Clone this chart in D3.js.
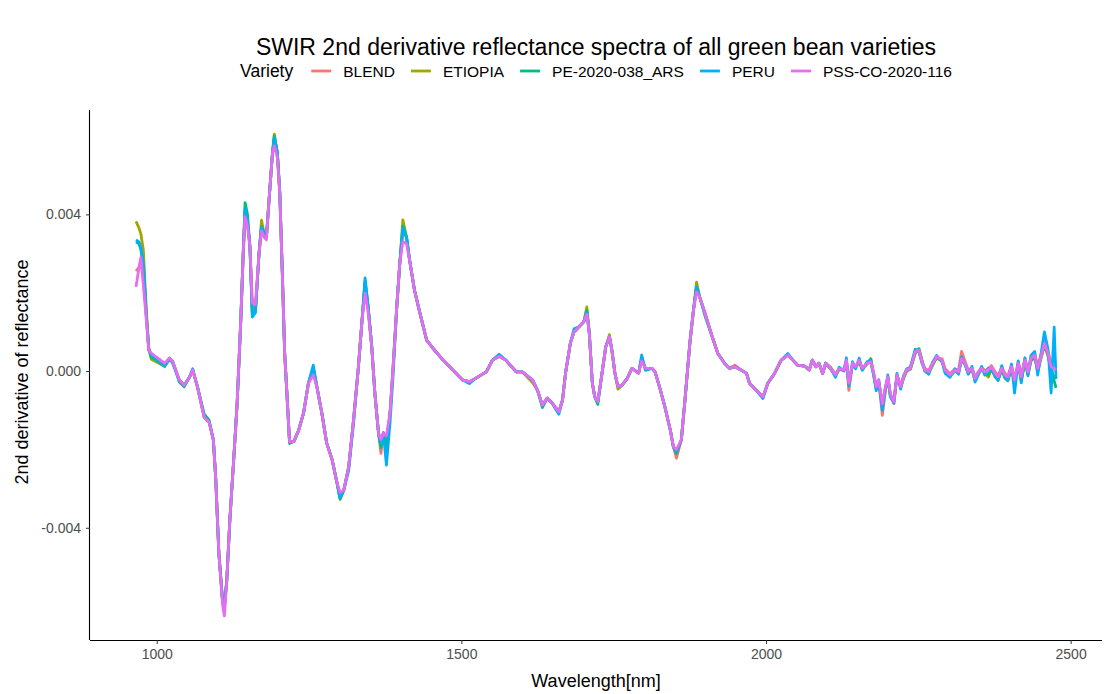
<!DOCTYPE html>
<html>
<head>
<meta charset="utf-8">
<script src="https://cdn.jsdelivr.net/npm/d3@7"></script>
<style>
  body { margin: 0; background: #fff; }
  svg { font-family: "Liberation Sans", Arial, sans-serif; }
</style>
</head>
<body>
<svg width="1107" height="694"></svg>
<script>
// values are 2nd derivative of reflectance, written in units of 1e-4
const UNIT = 1e-4;

const varieties = ["BLEND", "ETIOPIA", "PE-2020-038_ARS", "PERU", "PSS-CO-2020-116"];
const colors = ["#F8766D", "#A3A500", "#00BF7D", "#00B0F6", "#E76BF3"];

const wavelength = [
  966, 971, 974, 978, 983, 987, 991, 999, 1013, 1021,
  1026, 1037, 1045, 1054, 1059, 1067, 1078, 1086, 1093, 1097,
  1102, 1108, 1111, 1115, 1120, 1127, 1132, 1138, 1142, 1145,
  1149, 1153, 1157, 1162, 1168, 1172, 1176, 1180, 1184, 1190,
  1193, 1198, 1202, 1206, 1210, 1214, 1218, 1225, 1233, 1241,
  1249, 1257, 1263, 1271, 1279, 1288, 1296, 1301, 1307, 1315,
  1323, 1331, 1337, 1342, 1347, 1353, 1358, 1364, 1368, 1372,
  1377, 1383, 1388, 1394, 1399, 1404, 1410, 1415, 1423, 1432,
  1443, 1453, 1470, 1486, 1502, 1513, 1524, 1541, 1551, 1562,
  1573, 1590, 1600, 1617, 1625, 1633, 1641, 1649, 1660, 1666,
  1671, 1679, 1685, 1693, 1701, 1706, 1710, 1715, 1719, 1724,
  1730, 1737, 1743, 1747, 1752, 1757, 1764, 1772, 1780, 1791,
  1796, 1802, 1813, 1818, 1826, 1834, 1843, 1848, 1853, 1861,
  1867, 1875, 1881, 1886, 1891, 1900, 1910, 1921, 1932, 1940,
  1949, 1959, 1968, 1973, 1984, 1995, 2003, 2014, 2025, 2036,
  2044, 2052, 2063, 2071, 2076, 2082, 2087, 2093, 2098,
  2106, 2114, 2120, 2128, 2132, 2136, 2142, 2147, 2153, 2158,
  2166, 2172, 2177, 2181, 2185, 2191, 2196, 2200, 2204, 2210,
  2215, 2221, 2226, 2231, 2237, 2245, 2251, 2256, 2261, 2267,
  2274, 2280, 2289, 2294, 2302, 2310, 2316, 2321, 2327, 2332,
  2338, 2343, 2349, 2354, 2359, 2365, 2370, 2376, 2381, 2387,
  2392, 2397, 2403, 2408, 2414, 2419, 2425, 2430, 2435, 2441,
  2446, 2452, 2457, 2463, 2468, 2473, 2476
];

const blend = [
  25.5, 26.5, 28, 24, 14, 5.5, 4.4, 3.4, 1.6, 3.3,
  2.5, -2.3, -3.6, -1.5, 0.3, -4.1, -11.8, -13, -17.6, -27.9,
  -46.5, -58.5, -60, -53.4, -38.1, -21, -8.2, 13, 30.2, 40.5,
  38, 31.7, 15, 15.6, 30.2, 36.8, 35.3, 34.2, 42.9, 55.7,
  59.5, 55.7, 45.5, 25.8, 4.6, -6.6, -18, -18, -15.1, -10.7,
  -3.1, 0.3, -4.1, -10.7, -18.4, -22.7, -28.6, -31.5, -30.4, -24.5,
  -12.5, 1, 13, 22, 16.4, 6.1, -5.6, -15.8, -21, -15.8,
  -18, -10.7, 1, 16.4, 27.6, 35.5, 34.2, 28.4, 20.7, 14.8,
  7.9, 5.9, 2.8, 0.3, -2.3, -2.7, -1.8, -0.2, 2.8, 3.8,
  2.8, -0.2, -0.2, -2.3, -4.9, -8.7, -6.9, -8.2, -10.4, -7.4,
  -0.5, 7.2, 10, 11.3, 12.6, 15.2, 9.7, -3.1, -6.6, -7.8,
  -1.5, 6.2, 8.8, 5.4, -0.5, -4, -3.6, -1.9, 0.7, -0.5,
  3, 0.7, 0.7, -0.2, -4.5, -9.1, -15.1, -19.3, -22.2, -17.6,
  -7.4, 7.1, 15.6, 21.1, 19, 14.7, 9.6, 4.5, 2, 0.7,
  1.5, 0.3, -0.6, -3.1, -4.9, -6.6, -3.1, -0.6, 2.8, 4.1,
  2.8, 1.5, 1.3, 0.3, 2.8, 1.1, 2, -0.6, 2,
  1, -0.8, 0.5, 0.5, 2.5, -4.9, 1.8, 1.3, 2.5, 0.4,
  2.2, 2, -1, -4.5, -2.8, -11.3, -5, -1.8, -6, -8.3,
  -1.2, -3.6, -1.2, 0.5, 1, 5.2, 5, 2.2, 0.6, 0.2,
  2.3, 3.2, 3.2, 0.6, -0.7, 0.5, 0.3, 5, 2.4, 0.2,
  0.9, -1.5, 0, 0.9, 0.2, 0.5, 1.4, -0.2, -1.2, 1,
  -0.6, -1.2, 1.5, -2, 2.4, -1, 3.2, 0.4, 3.6, 4.6,
  1.2, 4.5, 7.5, 5, 2, 0.8, 0.5
];

const etiopia = [
  38.2, 36.5, 35, 31, 15.5, 6, 3, 2.4, 1.2, 3.0,
  2.5, -2.3, -3.6, -1.5, 0.3, -4.1, -11.8, -13, -17.6, -27.9,
  -46.5, -58.5, -60, -53.4, -38.1, -21, -8.2, 13, 30.2, 41,
  38, 31.7, 14.5, 15.5, 30.2, 38.5, 35.3, 34.2, 42.9, 55.7,
  60.5, 55.7, 45.5, 25.8, 4.6, -6.6, -18, -18, -15.1, -10.7,
  -3.1, 0.5, -4.1, -10.7, -18.4, -22.7, -28.6, -32.8, -30.4, -24.5,
  -12.5, 1, 13, 22.5, 16.4, 6.1, -5.6, -15.8, -19, -15.8,
  -19, -10.7, 1, 16.4, 27.6, 38.6, 34.2, 28.4, 20.7, 14.8,
  7.9, 5.9, 2.8, 0.3, -2.3, -2.7, -1.8, -0.2, 2.8, 3.8,
  2.8, -0.2, -0.2, -3, -4.9, -8.7, -6.9, -8.2, -10.4, -7.4,
  -0.5, 7.2, 10, 11.3, 12.6, 16.4, 9.7, -3.1, -6.6, -7.8,
  -1.5, 6.2, 9.3, 5.4, -0.5, -4.6, -3.6, -1.9, 0.7, -0.5,
  3, 0.7, 0.7, -0.2, -4.5, -9.1, -15.1, -19.3, -21, -17.6,
  -7.4, 7.1, 15.6, 22.7, 19, 14.7, 9.6, 4.5, 2, 0.7,
  1.1, 0.3, -0.6, -3.1, -4.9, -6.6, -3.1, -0.6, 2.8, 4.1,
  2.8, 1.5, 1.3, 0.3, 2.8, 1.1, 2, -0.6, 2,
  0.5, -1.2, 0.4, 0.2, 2.4, -3.5, 1.6, 0.8, 2.4, 0.4,
  1.8, 3.2, -1.2, -4.4, -3, -8.8, -4.6, -1.8, -6.2, -7.2,
  -1.3, -4.2, -1.8, 0, 0.4, 4.5, 5.8, 2.8, 0, -0.6,
  1.6, 3.4, 2.4, 0, -1.4, 0, -0.6, 2.8, 1.6, -0.6,
  0.4, -2.3, -0.6, 0.4, -0.6, -1.5, 0.6, -1.5, -2.3, 0.2,
  -1.8, -2.5, 0.6, -3.1, 1.6, -2.4, 2.2, -1, 2.6, 3.4,
  0, 3.6, 6.5, 3.8, 0.4, -1.5, -2
];

const pe2020 = [
  33, 32.5, 31, 27, 14, 5.4, 3.6, 2.8, 1.2, 3.3,
  2.5, -2.8, -4, -1.5, 0.3, -4.1, -11, -12.5, -17.6, -27.9,
  -46.5, -58.5, -60, -53.4, -38.1, -21, -8.2, 13, 30.2, 43,
  40, 31.7, 14, 15, 30.2, 36.8, 35.3, 34.2, 42.9, 55.7,
  60, 55.7, 45.5, 25.8, 4.6, -6.6, -18.5, -18, -15.1, -10.7,
  -3.1, 0.6, -4.1, -10.7, -18.4, -22.7, -28.6, -32.5, -30.4, -24.5,
  -12.5, 1, 13, 23, 16.4, 6.1, -5.6, -15.8, -19.5, -15.8,
  -20, -10.7, 1, 16.4, 27.6, 37, 34.2, 28.4, 20.7, 14.8,
  7.9, 5.9, 2.8, 0.3, -2.3, -2.7, -1.8, -0.2, 2.8, 3.8,
  2.8, -0.2, -0.2, -2.3, -4.9, -9.3, -6.9, -8.2, -10.4, -7.4,
  -0.5, 7.2, 10, 11.3, 12.6, 15.5, 9.7, -3.1, -6.6, -8.5,
  -1.5, 6.2, 8.8, 5.4, -0.5, -4, -3.6, -1.9, 0.7, -0.5,
  3.4, 0.7, 0.7, -0.2, -4.5, -9.1, -15.1, -19.3, -21, -17.6,
  -7.4, 7.1, 15.6, 21.5, 19, 14, 9.6, 4.5, 2, 0.7,
  1.1, 0.3, -0.6, -3.1, -4.9, -6.6, -3.1, -0.6, 2.8, 4.1,
  2.8, 1.5, 1.3, 0.3, 2.8, 1.1, 2, -0.6, 2,
  0.6, -1.1, 0.6, 0.2, 2.6, -3.3, 1.8, 1, 2.6, 0.6,
  1.9, 3, -0.8, -4.4, -2.6, -8.6, -4.2, -1.6, -6, -7.6,
  -1.1, -4.1, -1.6, 0.2, 0.6, 4.7, 5.6, 2.6, 0.2, -0.4,
  1.8, 3.6, 2.6, 0.2, -1.2, 0.2, -0.4, 3, 1.8, -0.4,
  0.6, -2.1, -0.4, 0.6, -0.4, -1, 0.8, -1.2, -2, 0.4,
  -1.4, -2, 0.8, -2.8, 1.8, -2, 2.4, -0.6, 2.8, 3.6,
  0.3, 3.8, 6.8, 4, 0.6, -2.5, -4.3
];

const peru = [
  33.5, 33, 31.5, 27.5, 14, 5.5, 4.2, 3.2, 1.4, 3.3,
  2.0, -2.3, -3.6, -1.5, 0.6, -4.1, -11.8, -13, -17.6, -27.9,
  -46.5, -58.5, -61, -53.4, -38.1, -21, -8.2, 13, 30.2, 41.5,
  38.5, 31.7, 13.8, 15, 30.2, 36.8, 35.3, 34.2, 42.9, 55.7,
  59.5, 55.7, 45.5, 25.8, 4.6, -6.6, -18, -18, -15.1, -10.7,
  -3.1, 1.5, -4.1, -10.7, -18.4, -22.7, -28.6, -32.5, -30.4, -25.5,
  -13.5, 1, 13, 23.8, 16.4, 6.1, -5.6, -15.8, -18.4, -15.8,
  -24, -13, -1, 16.4, 27.6, 36.5, 34.2, 28.4, 20.7, 14.8,
  7.9, 5.9, 2.8, 0.3, -2.3, -3.2, -1.8, -0.2, 2.8, 4.3,
  2.8, -0.2, -0.2, -2.3, -4.9, -8.7, -6.9, -8.2, -11, -7.4,
  -0.5, 7.2, 10.8, 11.3, 12.6, 15, 9.7, -3.1, -6.6, -7.8,
  -1.5, 6.2, 8.8, 5.4, -0.5, -4, -3.6, -1.9, 0.7, -0.5,
  4.1, 0.2, 0.7, -0.2, -4.5, -9.1, -15.1, -19.3, -20.6, -17.6,
  -7.4, 7.1, 15.6, 21.5, 19, 14.7, 9.6, 4.5, 2, 0.7,
  1.1, 0.3, -0.6, -3.1, -4.9, -7, -3.1, -0.6, 2.8, 4.5,
  2.8, 1.5, 1.3, 0.3, 2.8, 1.1, 2, -0.6, 2,
  0.8, -1.6, 1, 0, 3.4, -3.8, 2.4, 0.6, 3.3, 0.2,
  2.4, 2.6, -1.4, -5, -2.2, -10, -4.8, -1, -6.5, -8.2,
  -0.6, -4.6, -1.2, 0.6, 1, 5.6, 5, 2, 0, -0.8,
  2.4, 4, 2.4, -0.6, -1.6, 0.6, -0.8, 3.6, 1.6, -0.8,
  1.2, -2.8, -0.8, 1.2, -1, 0.8, 0.4, -1.2, -2.4, 1.4,
  -1.6, -2.4, 1.8, -5.6, 2.6, -3, 3.4, -1.2, 4, 5,
  -1, 5, 10, 5.5, -5.6, 11.2, -2
];

const pss = [
  21.5, 26.5, 29, 22, 13, 5.2, 4.6, 3.6, 2, 3.3,
  2.5, -2.3, -3.6, -1.5, 0.3, -4.1, -11.8, -13, -17.6, -27.9,
  -46.5, -59.5, -62.5, -53.4, -38.1, -21, -8.2, 13, 30.2, 39.4,
  37, 31.7, 17.4, 17, 30.2, 35.8, 34.2, 33.5, 42.9, 55.7,
  57.5, 54.5, 45.5, 25.8, 4.6, -6.6, -18, -18, -15.1, -10.7,
  -3.1, -1, -4.1, -10.7, -18.4, -22.7, -28.6, -31, -30.4, -24.5,
  -12.5, 1, 13, 19.9, 15, 6.1, -5.6, -15.8, -17.5, -15.8,
  -16.5, -10.7, 1, 16.4, 27.6, 33, 32.5, 28.4, 20.7, 14.8,
  7.9, 5.9, 2.8, 0.3, -2.3, -2.7, -1.8, -0.2, 2.8, 3.8,
  2.8, -0.2, -0.2, -2.3, -4.9, -8.7, -6.9, -8.2, -10.4, -7.4,
  -0.5, 7.2, 10, 11.3, 12.6, 14.5, 9.7, -3.1, -6.6, -7.8,
  -1.5, 6.2, 8.8, 5.4, -0.5, -4, -3.6, -1.9, 0.7, -0.5,
  2.6, 0.7, 0.7, -0.2, -4.5, -9.1, -15.1, -19.3, -20, -17.6,
  -7.4, 7.1, 15.6, 20.2, 19, 14.7, 9.6, 4.5, 2, 0.7,
  1.1, 0.3, -0.6, -3.1, -4.9, -6.6, -3.1, -0.6, 2.8, 4.1,
  2.8, 1.5, 1.3, 0.3, 2.8, 1.1, 2, -0.6, 2,
  0.7, -1, 0.7, 0.3, 2.8, -3.1, 2, 1.1, 2.8, 0.7,
  2, 2.4, -0.6, -4, -2.3, -8.3, -4, -1.5, -5.7, -7.8,
  -1, -4, -1.5, 0.3, 0.7, 4.9, 5.4, 2.4, 0.3, -0.2,
  2, 3.7, 2.8, 0.3, -1, 0.3, -0.2, 3.2, 2, -0.2,
  0.7, -1.9, -0.2, 0.7, -0.2, 0.3, 1.1, -0.6, -1.5, 0.7,
  -1, -1.5, 1.1, -2.3, 2, -1.5, 2.8, -0.2, 3.2, 4.1,
  0.7, 4.1, 7.1, 4.5, 1.1, 0.7, 0.3
];

const seriesValues = [blend, etiopia, pe2020, peru, pss];
const xTicks = [1000, 1500, 2000, 2500];
const yTicks = [-0.004, 0, 0.004];

const svg = d3.select("svg");
const width = +svg.attr("width"), height = +svg.attr("height");
const margin = { top: 110, right: 5, bottom: 54, left: 90 };
const w = width - margin.left - margin.right,
      h = height - margin.top - margin.bottom;

const series = varieties.map((name, i) => ({
  name: name,
  color: colors[i],
  points: wavelength.map((wl, j) => ({ x: wl, y: seriesValues[i][j] * UNIT }))
}));

// ggplot style 5% expansion on both axes
function expand(ext) {
  const pad = (ext[1] - ext[0]) * 0.05;
  return [ext[0] - pad, ext[1] + pad];
}
const allY = series.flatMap(s => s.points.map(p => p.y));

const x = d3.scaleLinear().domain(expand(d3.extent(wavelength))).range([0, w]);
const y = d3.scaleLinear().domain(expand(d3.extent(allY))).range([h, 0]);

const g = svg.append("g").attr("transform", `translate(${margin.left},${margin.top})`);

const line = d3.line().x(d => x(d.x)).y(d => y(d.y));

g.selectAll(".spectrum")
  .data(series)
  .join("path")
  .attr("class", "spectrum")
  .attr("fill", "none")
  .attr("stroke", d => d.color)
  .attr("stroke-width", 2.8)
  .attr("stroke-linejoin", "round")
  .attr("d", d => line(d.points));

// axes (plain hyphen for the minus sign, like R)
const yFmt = d => d3.format(".3f")(d).replace("\u2212", "-");
const xAxis = g.append("g")
  .attr("transform", `translate(0,${h})`)
  .call(d3.axisBottom(x).tickValues(xTicks).tickSize(4).tickPadding(5).tickFormat(d3.format("d")));
const yAxis = g.append("g")
  .call(d3.axisLeft(y).tickValues(yTicks).tickSize(4).tickPadding(5).tickFormat(yFmt));

[xAxis, yAxis].forEach(a => {
  a.select(".domain").attr("stroke", "#000").attr("stroke-width", 1.1);
  a.selectAll(".tick line").attr("stroke", "#333");
  a.selectAll(".tick text")
    .attr("fill", "#4d4d4d")
    .style("font-size", "14px")
    .style("font-family", "Liberation Sans, Arial, sans-serif");
});
xAxis.select(".domain").attr("d", `M0,0.5H${w}`);
yAxis.select(".domain").attr("d", `M-0.5,0V${h}`);

// axis titles
svg.append("text")
  .attr("x", margin.left + w / 2)
  .attr("y", height - 7)
  .attr("text-anchor", "middle")
  .style("font-size", "18px")
  .text("Wavelength[nm]");

svg.append("text")
  .attr("transform", `translate(28,${margin.top + h / 2 - 3}) rotate(-90)`)
  .attr("text-anchor", "middle")
  .style("font-size", "18px")
  .text("2nd derivative of reflectance");

// title
svg.append("text")
  .attr("x", margin.left + w / 2)
  .attr("y", 55)
  .attr("text-anchor", "middle")
  .style("font-size", "23px")
  .text("SWIR 2nd derivative reflectance spectra of all green bean varieties");

// legend (horizontal, top)
const legend = svg.append("g");
const legTitle = legend.append("text")
  .attr("y", 6)
  .style("font-size", "17.5px")
  .text("Variety");
let cursor = legTitle.node().getComputedTextLength() + 18;
series.forEach(s => {
  const item = legend.append("g").attr("transform", `translate(${cursor},0)`);
  item.append("line")
    .attr("x1", 0).attr("x2", 20)
    .attr("stroke", s.color).attr("stroke-width", 2.8);
  const t = item.append("text")
    .attr("x", 32).attr("y", 5.5)
    .style("font-size", "15.5px")
    .text(s.name);
  cursor += 32 + t.node().getComputedTextLength() + 16;
});
const legWidth = cursor - 16;
legend.attr("transform", `translate(${margin.left + w / 2 - legWidth / 2},71)`);
</script>
</body>
</html>
